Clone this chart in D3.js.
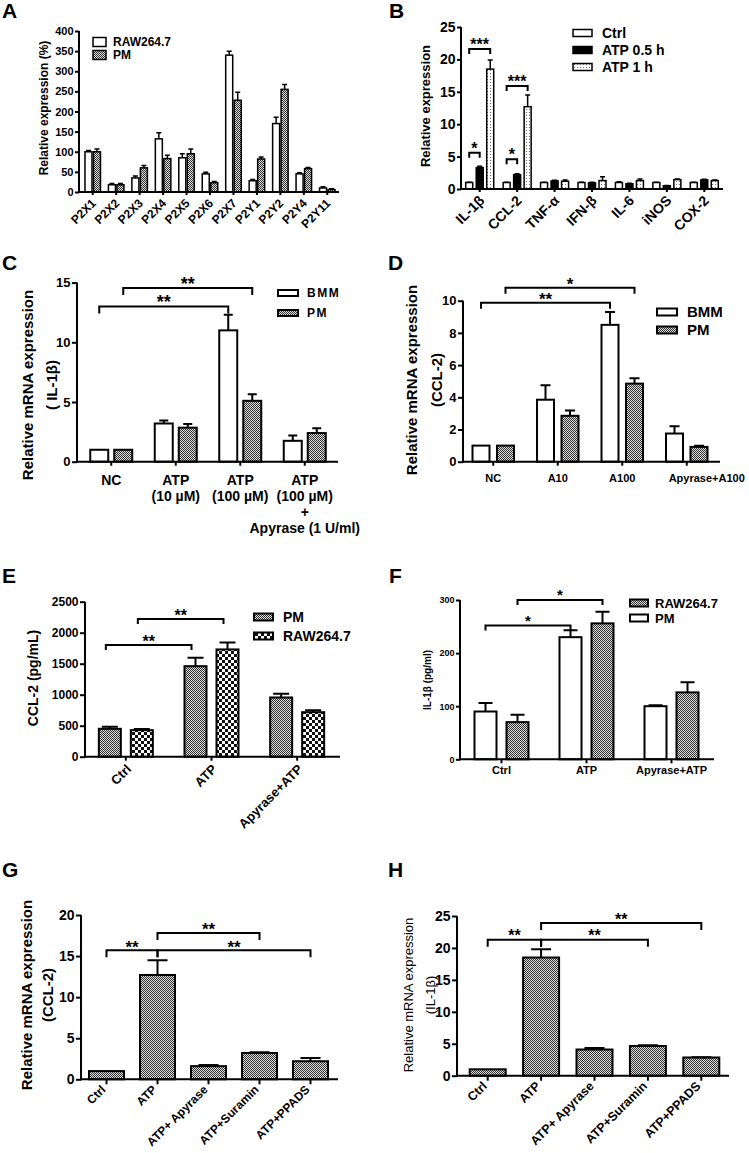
<!DOCTYPE html>
<html><head><meta charset="utf-8">
<script src="https://cdn.jsdelivr.net/npm/d3@7"></script>
<style>body{margin:0;background:#fff} svg{display:block}</style>
</head><body><svg id="c" width="749" height="1153"></svg>
<script>
// ---------------- DATA ----------------
// Panel A
const aCats = ["P2X1","P2X2","P2X3","P2X4","P2X5","P2X6","P2X7","P2Y1","P2Y2","P2Y4","P2Y11"];
const aRaw = [100,18,35,132,85,45,340,28,170,45,10];
const aRawErr = [3,3,5,15,10,4,10,3,16,3,3];
const aPm = [100,18,60,83,95,23,228,82,255,58,6];
const aPmErr = [7,3,6,8,12,3,20,5,12,3,2];
const aTicks = [0,50,100,150,200,250,300,350,400];
// Panel B
const bCats = ["IL-1β","CCL-2","TNF-α","IFN-β","IL-6","iNOS","COX-2"];
const bCtrl = [1,1,1,1,1,1,1];
const bCtrlErr = [0.05,0.05,0.05,0.05,0.1,0.05,0.05];
const bAtp05 = [3.3,2.2,1.25,0.95,0.8,0.5,1.4];
const bAtp05Err = [0.2,0.15,0.1,0.1,0.1,0.05,0.1];
const bAtp1 = [18.5,12.7,1.2,1.3,1.3,1.45,1.3];
const bAtp1Err = [1.4,1.8,0.2,0.6,0.25,0.1,0.1];
const bTicks = [0,5,10,15,20,25];
const bSig = [{a:[0,0],b:[0,2],at:21.6,label:"***"},{a:[1,0],b:[1,2],at:15.9,label:"***"},
              {a:[0,0],b:[0,1],at:5.6,label:"*"},{a:[1,0],b:[1,1],at:4.6,label:"*"}];
// Panel C
const cCats = ["NC","ATP10","ATP100","ATP100+Apyrase"];
const cLabels = [["NC"],["ATP","(10 µM)"],["ATP","(100 µM)"],["ATP","(100 µM)","+","Apyrase (1 U/ml)"]];
const cBmm = [1,3.2,11.0,1.75];
const cBmmErr = [0,0.25,1.3,0.45];
const cPm = [1,2.85,5.1,2.4];
const cPmErr = [0,0.3,0.55,0.4];
const cTicks = [0,5,10,15];
const cSig = [{a:[0,0],b:[2,0],at:13.0,label:"**"},{a:[0,1],b:[2,1],at:14.55,label:"**"}];
// Panel D
const dCats = ["NC","A10","A100","Apyrase+A100"];
const dBmm = [1,3.85,8.5,1.75];
const dBmmErr = [0,0.9,0.8,0.45];
const dPm = [1,2.85,4.85,0.92];
const dPmErr = [0,0.33,0.33,0.07];
const dTicks = [0,2,4,6,8,10];
const dSig = [{a:[0,0],b:[2,0],at:9.88,label:"**"},{a:[0,1],b:[2,1],at:10.8,label:"*"}];
// Panel E
const eCats = ["Ctrl","ATP","Apyrase+ATP"];
const ePm = [450,1460,955];
const ePmErr = [35,135,60];
const eRaw = [428,1730,718];
const eRawErr = [18,110,33];
const eTicks = [0,500,1000,1500,2000,2500];
const eSig = [{a:[0,0],b:[1,0],at:1800,label:"**"},{a:[0,1],b:[1,1],at:2220,label:"**"}];
// Panel F
const fCats = ["Ctrl","ATP","Apyrase+ATP"];
const fPm = [90,230,100];
const fPmErr = [16,13,2];
const fRaw = [70,256,126];
const fRawErr = [14,22,19];
const fTicks = [0,100,200,300];
const fSig = [{a:[0,0],b:[1,0],at:252,label:"*"},{a:[0,1],b:[1,1],at:300,label:"*"}];
// Panel G
const gCats = ["Ctrl","ATP","ATP+ Apyrase","ATP+Suramin","ATP+PPADS"];
const gVals = [1,12.7,1.6,3.2,2.2];
const gErr = [0,1.8,0.15,0.1,0.4];
const gTicks = [0,5,10,15,20];
const gSig = [{a:[0,0],b:[1,0],at:15.7,label:"**"},{a:[1,0],b:[3,0],at:17.8,label:"**"},{a:[1,0],b:[4,0],at:15.7,label:"**"}];
// Panel H
const hCats = ["Ctrl","ATP","ATP+ Apyrase","ATP+Suramin","ATP+PPADS"];
const hVals = [1,18.5,4.1,4.65,2.85];
const hErr = [0,1.3,0.25,0.1,0.05];
const hTicks = [0,5,10,15,20,25];
const hSig = [{a:[0,0],b:[1,0],at:21.3,label:"**"},{a:[1,0],b:[3,0],at:21.3,label:"**"},{a:[1,0],b:[4,0],at:23.9,label:"**"}];

// ---------------- DRAWING ----------------
const FONT = '"Liberation Sans", Arial, Helvetica, sans-serif';
const svg = d3.select("#c");
const defs = svg.append("defs");

function makePattern(id, size, bg, fg, cells) {
  const p = defs.append("pattern").attr("id", id).attr("patternUnits", "userSpaceOnUse")
    .attr("width", size).attr("height", size);
  p.append("rect").attr("width", size).attr("height", size).attr("fill", bg);
  cells.forEach(c => p.append("rect").attr("x", c[0]).attr("y", c[1]).attr("width", c[2]).attr("height", c[2]).attr("fill", fg));
}
makePattern("fine", 2, "#dcdcdc", "#333333", [[0,0,1],[1,1,1]]);
makePattern("coarse", 6, "#ffffff", "#111111", [[0,0,3],[3,3,3]]);
makePattern("dots", 3, "#ffffff", "#777777", [[1,1,1]]);

function drawPanel(P) {
  const g = svg.append("g");
  const x = d3.scaleBand().domain(P.cats).range(P.xRange);
  const y = d3.scaleLinear().domain([0, P.yMax]).range([P.y0, P.yTop]);
  const n = P.series.length;
  const barX = (i, si) => x(P.cats[i]) + x.bandwidth() / 2 + (si - (n - 1) / 2) * (P.barW + P.gap) - P.barW / 2;
  const barC = (i, si) => barX(i, si) + P.barW / 2;

  // bars
  P.series.forEach((s, si) => {
    const sg = g.append("g");
    sg.selectAll("rect").data(s.vals).join("rect")
      .attr("x", (d, i) => barX(i, si)).attr("y", d => y(d))
      .attr("width", P.barW).attr("height", d => y(0) - y(d))
      .attr("fill", s.fill).attr("stroke", "#000").attr("stroke-width", P.sw);
    sg.selectAll("path").data(s.vals).join("path")
      .attr("d", (d, i) => {
        if (!s.errs[i]) return null;
        const cx = barC(i, si), ye = y(d + s.errs[i]);
        return `M${cx},${y(d)}V${ye}M${cx - P.cap / 2},${ye}H${cx + P.cap / 2}`;
      })
      .attr("stroke", "#000").attr("stroke-width", P.sw).attr("fill", "none");
  });

  // y axis
  const yg = g.append("g").attr("transform", `translate(${P.axisX},0)`)
    .call(d3.axisLeft(y).tickValues(P.ticks).tickFormat(d3.format("d"))
      .tickSize(P.tickLen).tickSizeOuter(0).tickPadding(1.5));
  yg.attr("font-family", FONT).attr("font-size", P.tickFs).attr("font-weight", "bold");
  yg.selectAll("line,path").attr("stroke-width", P.axisW);
  yg.select(".domain").attr("d", `M0,${P.y0 + P.axisW / 2}V${y(P.yMax)}`);

  // x axis
  const xg = g.append("g").attr("transform", `translate(0,${P.y0})`)
    .call(d3.axisBottom(x).tickSize(P.xTickLen).tickSizeOuter(0).tickFormat(""));
  xg.selectAll("line,path").attr("stroke-width", P.axisW);
  xg.select(".domain").attr("d", `M${P.axisX},0H${P.xEnd}`);

  // x labels
  const lg = g.append("g").attr("font-family", FONT).attr("font-weight", "bold").attr("font-size", P.xFs);
  if (P.rot) {
    lg.selectAll("text").data(P.cats).join("text")
      .attr("transform", d => `translate(${x(d) + x.bandwidth() / 2 + P.rotDx},${P.y0 + P.rotDy}) rotate(-45)`)
      .attr("text-anchor", "end").attr("dy", "0.35em").text(d => d);
  } else {
    P.cats.forEach((c, i) => {
      const lines = P.xLines ? P.xLines[i] : [c];
      const t = lg.append("text").attr("text-anchor", "middle");
      lines.forEach((ln, k) => {
        t.append("tspan").attr("x", x(c) + x.bandwidth() / 2 + (P.xLabDx ? P.xLabDx[i] : 0))
          .attr("y", P.y0 + P.xLabY + k * P.xLineH).attr("dy", "0.35em").text(ln);
      });
    });
  }

  // y title
  const tg = g.append("g").attr("font-family", FONT).attr("font-weight", P.titleW || "bold").attr("font-size", P.titleFs);
  P.title.forEach((t, k) => {
    tg.append("text").attr("transform", `translate(${P.titleX[k]},${P.titleY}) rotate(-90)`)
      .attr("text-anchor", "middle").attr("dy", "0.35em").text(t);
  });

  // legend
  const L = P.legend;
  const leg = g.append("g").attr("font-family", FONT).attr("font-weight", "bold").attr("font-size", L.fs);
  L.order.forEach((si, k) => {
    const s = P.series[si];
    const cy = L.y + k * L.dy;
    leg.append("rect").attr("x", L.x).attr("y", cy - L.bh / 2).attr("width", L.bw).attr("height", L.bh)
      .attr("fill", s.fill).attr("stroke", "#000").attr("stroke-width", L.sw);
    leg.append("text").attr("x", L.x + L.bw + L.tx).attr("y", cy).attr("dy", "0.36em")
      .attr("letter-spacing", L.ls || 0).text(s.name);
  });

  // significance brackets
  const sig = g.append("g");
  (P.sig || []).forEach(b => {
    const x1 = barC(b.a[0], b.a[1]) + (P.sigDx || 0), x2 = barC(b.b[0], b.b[1]) + (P.sigDx || 0);
    const yy = y(b.at);
    sig.append("path").attr("d", `M${x1},${yy + P.leg}V${yy}H${x2}V${yy + P.leg}`)
      .attr("fill", "none").attr("stroke", "#000").attr("stroke-width", P.sigW || 2);
    sig.append("text").attr("x", (x1 + x2) / 2).attr("y", yy - P.starOff + P.starFs * 0.55)
      .attr("text-anchor", "middle").attr("font-family", FONT).attr("font-weight", "bold")
      .attr("font-size", P.starFs).text(b.label);
  });

  // panel letter
  svg.append("text").attr("x", P.letter[0]).attr("y", P.letter[1]).attr("font-family", FONT)
    .attr("font-weight", "bold").attr("font-size", 21).text(P.letter[2]);
}

// Panel A
drawPanel({
  cats: aCats, xRange: [81, 339], axisX: 79, xEnd: 339, y0: 192, yTop: 31, yMax: 400, ticks: aTicks,
  series: [{vals: aRaw, errs: aRawErr, fill: "#fff", name: "RAW264.7"}, {vals: aPm, errs: aPmErr, fill: "url(#fine)", name: "PM"}],
  barW: 7, gap: 1.5, sw: 1.5, cap: 5, tickLen: 4, tickFs: 11, axisW: 2, xTickLen: 3,
  rot: true, rotDx: 1, rotDy: 9, xFs: 12,
  title: ["Relative expression (%)"], titleX: [44], titleY: 108, titleFs: 12,
  legend: {x: 93, y: 42, dy: 13, bw: 13, bh: 9, tx: 7, fs: 12, sw: 1.5, order: [0, 1]},
  letter: [2, 18, "A"]
});
// Panel B
drawPanel({
  cats: bCats, xRange: [461, 723], axisX: 461, xEnd: 723, y0: 189, yTop: 27, yMax: 25, ticks: bTicks,
  series: [{vals: bCtrl, errs: bCtrlErr, fill: "#fff", name: "Ctrl"},
           {vals: bAtp05, errs: bAtp05Err, fill: "#000", name: "ATP 0.5 h"},
           {vals: bAtp1, errs: bAtp1Err, fill: "url(#dots)", name: "ATP 1 h"}],
  barW: 7, gap: 3.5, sw: 1.5, cap: 5, tickLen: 4, tickFs: 14, axisW: 2, xTickLen: 3,
  rot: true, rotDx: 2, rotDy: 9, xFs: 14,
  title: ["Relative expression"], titleX: [425], titleY: 106, titleFs: 13,
  legend: {x: 573, y: 33, dy: 17, bw: 19, bh: 7, tx: 10, fs: 14, sw: 1.5, order: [0, 1, 2]},
  sig: bSig, leg: 5, starFs: 16, starOff: 8, sigW: 2,
  letter: [389, 18, "B"]
});
// Panel C
drawPanel({
  cats: cCats, xRange: [79, 337], axisX: 77, xEnd: 338, y0: 461.7, yTop: 282.6, yMax: 15, ticks: cTicks,
  series: [{vals: cBmm, errs: cBmmErr, fill: "#fff", name: "BMM"}, {vals: cPm, errs: cPmErr, fill: "url(#fine)", name: "PM"}],
  barW: 18, gap: 6, sw: 2, cap: 9, tickLen: 5, tickFs: 13, axisW: 2, xTickLen: 4,
  rot: false, xLines: cLabels, xLabY: 18, xLineH: 16, xFs: 14,
  title: ["Relative mRNA expression", "( IL-1β)"], titleX: [28, 52], titleY: 385, titleFs: 15,
  legend: {x: 278, y: 293, dy: 20, bw: 20, bh: 6, tx: 9, fs: 12, sw: 2, ls: 1.5, order: [0, 1]},
  sig: cSig, leg: 7, starFs: 18, starOff: 8, sigW: 2,
  letter: [2, 270, "C"]
});
// Panel D
drawPanel({
  cats: dCats, xRange: [461, 719], axisX: 463, xEnd: 720, y0: 461.7, yTop: 300.7, yMax: 10, ticks: dTicks,
  series: [{vals: dBmm, errs: dBmmErr, fill: "#fff", name: "BMM"}, {vals: dPm, errs: dPmErr, fill: "url(#fine)", name: "PM"}],
  barW: 17, gap: 7.5, sw: 2, cap: 10, tickLen: 5, tickFs: 13, axisW: 2, xTickLen: 4,
  rot: false, xLabY: 16, xLineH: 14, xFs: 11, xLabDx: [0, 0, 0, 20],
  title: ["Relative mRNA expression", "(CCL-2)"], titleX: [412, 437], titleY: 380, titleFs: 15,
  legend: {x: 657, y: 312, dy: 18, bw: 20, bh: 7, tx: 10, fs: 15, sw: 2, order: [0, 1]},
  sig: dSig, leg: 6, starFs: 17, starOff: 7, sigW: 2,
  letter: [388, 270, "D"]
});
// Panel E
drawPanel({
  cats: eCats, xRange: [83, 340], axisX: 85, xEnd: 340, y0: 756.7, yTop: 601.7, yMax: 2500, ticks: eTicks,
  series: [{vals: ePm, errs: ePmErr, fill: "url(#fine)", name: "PM"}, {vals: eRaw, errs: eRawErr, fill: "url(#coarse)", name: "RAW264.7"}],
  barW: 22, gap: 10, sw: 2, cap: 16, tickLen: 5, tickFs: 12, axisW: 2, xTickLen: 4,
  rot: true, rotDx: 3, rotDy: 10, xFs: 13,
  title: ["CCL-2 (pg/mL)"], titleX: [33], titleY: 678, titleFs: 14,
  legend: {x: 254, y: 617, dy: 19, bw: 19, bh: 7, tx: 10, fs: 14, sw: 2, order: [0, 1]},
  sig: eSig, leg: 5, starFs: 16, starOff: 7, sigW: 2, sigDx: -4,
  letter: [2, 583, "E"]
});
// Panel F
drawPanel({
  cats: fCats, xRange: [459, 714], axisX: 460, xEnd: 714, y0: 759.3, yTop: 600, yMax: 300, ticks: fTicks,
  series: [{vals: fPm, errs: fPmErr, fill: "#fff", name: "PM"}, {vals: fRaw, errs: fRawErr, fill: "url(#fine)", name: "RAW264.7"}],
  barW: 22, gap: 10, sw: 2, cap: 14, tickLen: 4, tickFs: 9, axisW: 2, xTickLen: 4,
  rot: false, xLabY: 11, xLineH: 12, xFs: 11,
  title: ["IL-1β  (pg/ml)"], titleX: [427], titleY: 680, titleFs: 10,
  legend: {x: 630, y: 603, dy: 15, bw: 18, bh: 7, tx: 7, fs: 13, sw: 2, order: [1, 0]},
  sig: fSig, leg: 5, starFs: 15, starOff: 8, sigW: 2,
  letter: [389, 583, "F"]
});
// Panel G
drawPanel({
  cats: gCats, xRange: [81, 336], axisX: 81, xEnd: 338, y0: 1079.3, yTop: 915, yMax: 20, ticks: gTicks,
  series: [{vals: gVals, errs: gErr, fill: "url(#fine)", name: ""}],
  barW: 35, gap: 0, sw: 2, cap: 20, tickLen: 5, tickFs: 14, axisW: 2, xTickLen: 5,
  rot: true, rotDx: -3, rotDy: 8, xFs: 12,
  title: ["Relative mRNA expression", "(CCL-2)"], titleX: [27, 48], titleY: 995, titleFs: 15,
  legend: {x: 0, y: 0, dy: 0, bw: 0, bh: 0, tx: 0, fs: 12, sw: 0, order: []},
  sig: gSig, leg: 7, starFs: 17, starOff: 7, sigW: 2,
  letter: [2, 877, "G"]
});
// Panel H
drawPanel({
  cats: hCats, xRange: [461, 728], axisX: 457, xEnd: 729, y0: 1075.7, yTop: 916, yMax: 25, ticks: hTicks,
  series: [{vals: hVals, errs: hErr, fill: "url(#fine)", name: ""}],
  barW: 36, gap: 0, sw: 2, cap: 20, tickLen: 5, tickFs: 14, axisW: 2, xTickLen: 5,
  rot: true, rotDx: -3, rotDy: 8, xFs: 12.5,
  title: ["Relative mRNA expression", "(IL-1β)"], titleX: [408, 430], titleY: 995, titleFs: 13, titleW: "normal",
  legend: {x: 0, y: 0, dy: 0, bw: 0, bh: 0, tx: 0, fs: 12, sw: 0, order: []},
  sig: hSig, leg: 7, starFs: 16, starOff: 7, sigW: 2,
  letter: [388, 877, "H"]
});
</script>
</body></html>
